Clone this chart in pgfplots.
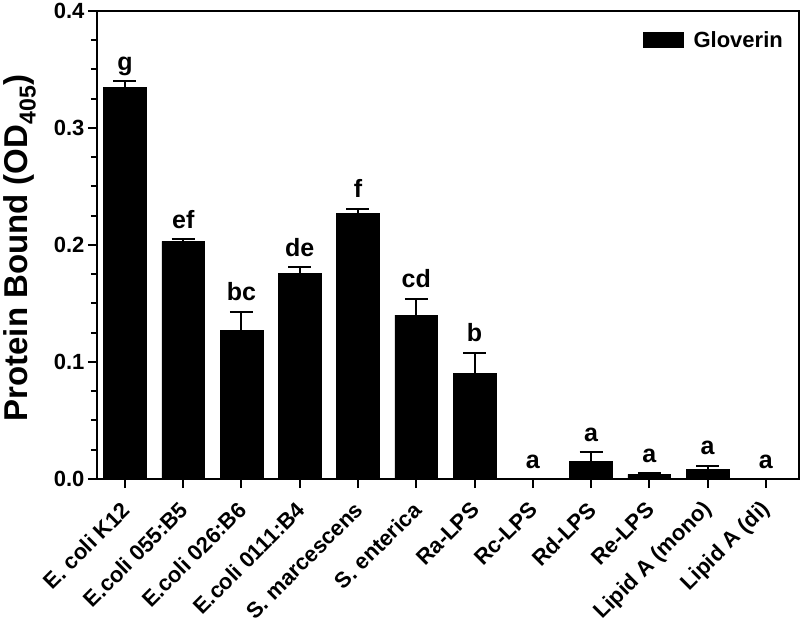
\documentclass[border=0pt]{standalone}
\usepackage{fontspec}
\setmainfont{Liberation Sans}
\usepackage{pgfplots}
\pgfplotsset{compat=1.18}
\usepackage{pgfplotstable}

\pgfplotstableread{
x y err top letter
0 0.335 0.005 0.340 g
1 0.203 0.002 0.205 ef
2 0.127 0.016 0.143 bc
3 0.176 0.005 0.181 de
4 0.227 0.004 0.231 f
5 0.140 0.014 0.154 cd
6 0.090 0.018 0.108 b
7 0.000 0.000 0.000 a
8 0.015 0.008 0.023 a
9 0.004 0.001 0.005 a
10 0.008 0.0035 0.0115 a
11 0.000 0.000 0.000 a
}\data

\begin{document}
\begin{tikzpicture}
\begin{axis}[
  scale only axis, width=702pt, height=468pt,
  xmin=-0.48, xmax=11.57, ymin=0, ymax=0.4,
  clip=false,
  axis line style={line width=2pt, black},
  every tick/.style={line width=2pt, black},
  tick align=outside,
  xtick pos=bottom, ytick pos=left,
  major tick length=9pt, minor tick length=6pt,
  xtick={0,1,2,3,4,5,6,7,8,9,10,11},
  xticklabels={E. coli K12, E.coli 055:B5, E.coli 026:B6, E.coli 0111:B4, S. marcescens, S. enterica, Ra-LPS, Rc-LPS, Rd-LPS, Re-LPS, Lipid A (mono), Lipid A (di)},
  xticklabel style={yshift=-18pt, xshift=1pt, rotate=45, anchor=east, inner sep=0pt, font=\fontsize{22}{26}\selectfont\bfseries},
  ytick={0,0.1,0.2,0.3,0.4},
  minor y tick num=3,
  scaled y ticks=false,
  yticklabel style={/pgf/number format/fixed, /pgf/number format/fixed zerofill, /pgf/number format/precision=1, /pgf/number format/assume math mode=true, font=\fontsize{22}{26}\selectfont\bfseries},
  ylabel={Protein Bound (OD\textsubscript{405})},
  every axis y label/.style={at={(rel axis cs:0,0.5)}, xshift=-69pt, yshift=-3pt, rotate=90, anchor=base, font=\fontsize{33}{38}\selectfont\bfseries},
  legend style={at={(rel axis cs:1,1)}, anchor=north east, xshift=-11pt, yshift=-16pt, draw=none, fill=none, font=\fontsize{22}{26}\selectfont\bfseries},
  legend cell align=left,
]
\addplot[ybar, fill=black, draw=black, bar width=0.735,
  legend image code/.code={\fill[black] (0pt,-7.5pt) rectangle (40pt,7.5pt); \path[draw=none, fill=none] (0pt,0pt) -- (48pt,0pt);},
  error bars/.cd, y dir=plus, y explicit,
  error bar style={line width=2pt, black},
  error mark options={rotate=90, mark size=11.5pt, line width=2pt, black}]
  table[x=x, y=y, y error plus=err]{\data};
\addlegendentry{Gloverin}
\addplot[only marks, mark=none, forget plot, nodes near coords, point meta=explicit symbolic,
  every node near coord/.style={anchor=base, yshift=11pt, font=\fontsize{25}{30}\selectfont\bfseries, black}]
  table[x=x, y=top, meta=letter]{\data};
\coordinate (ll) at (rel axis cs:0,0);
\coordinate (ur) at (rel axis cs:1,1);
\end{axis}
\pgfresetboundingbox
\path[use as bounding box] ([shift={(-97pt,-147pt)}]ll) rectangle ([shift={(1pt,11pt)}]ur);
\end{tikzpicture}
\end{document}
